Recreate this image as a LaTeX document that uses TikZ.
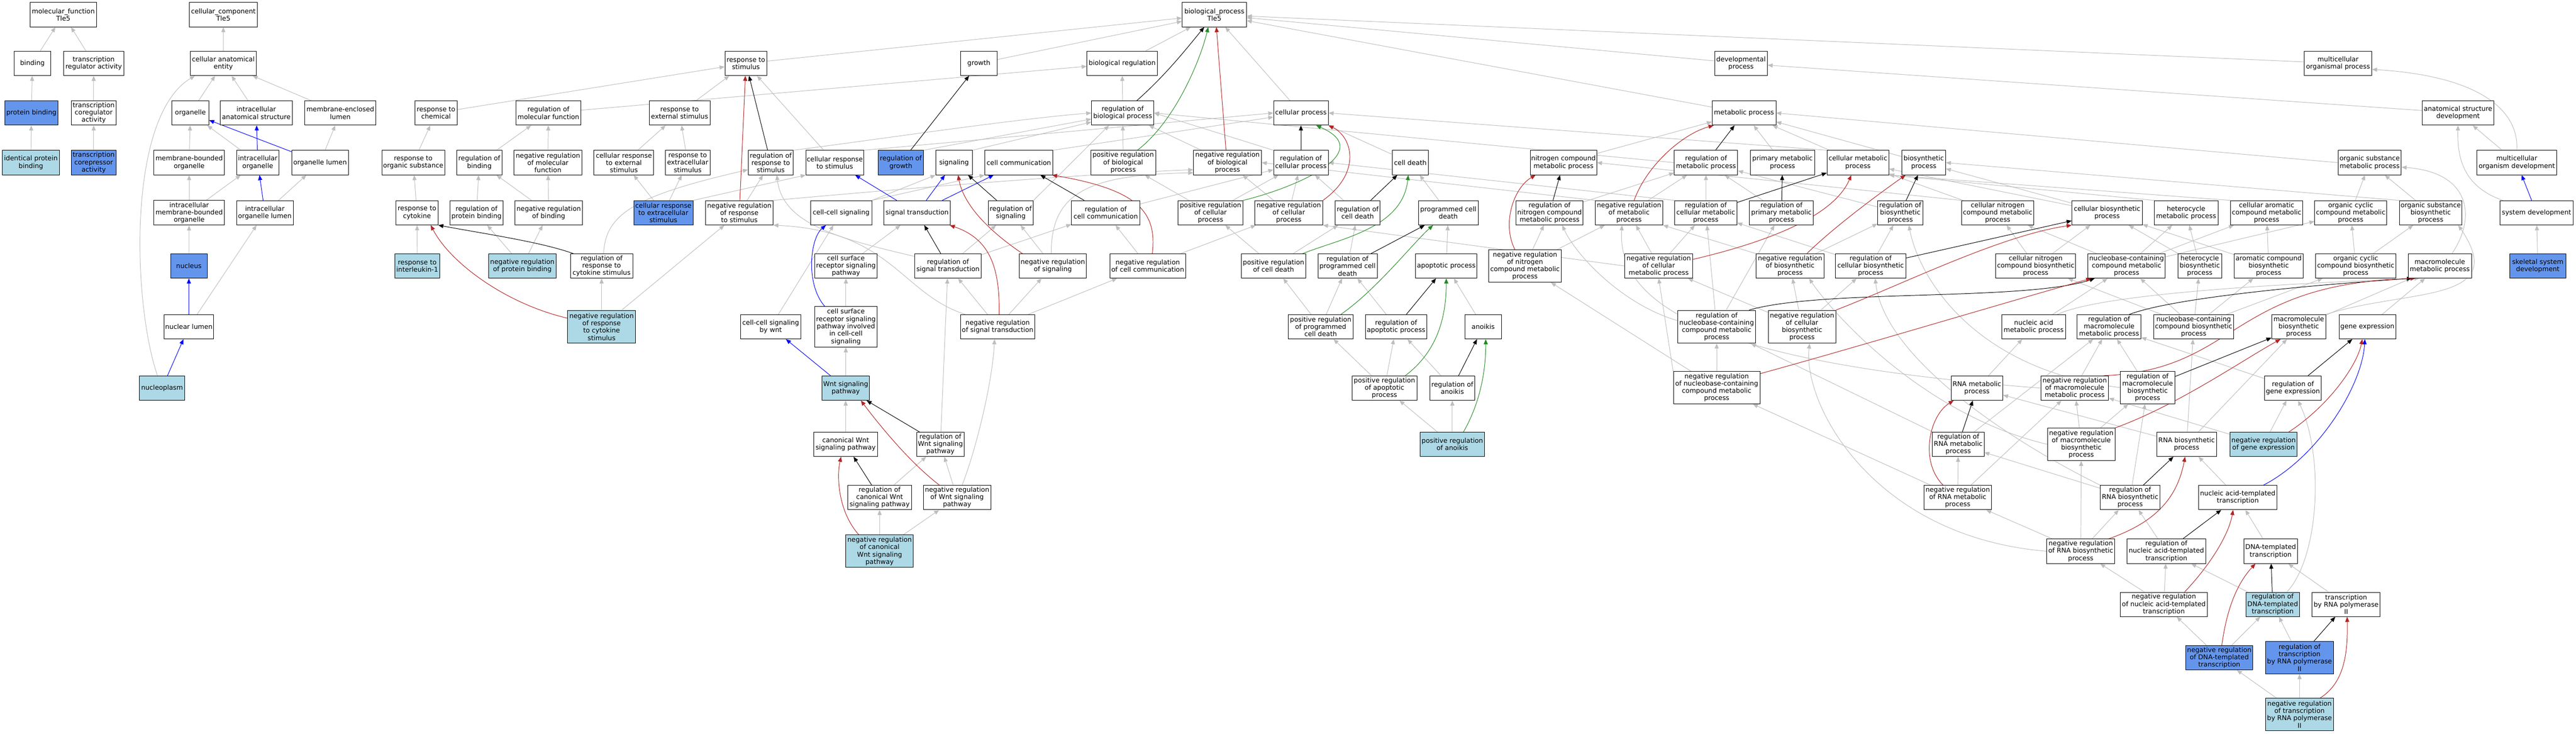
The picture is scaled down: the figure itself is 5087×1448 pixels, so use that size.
\documentclass[tikz,border=0pt]{standalone}
\usepackage{fontspec}
\setmainfont{DejaVu Sans}
\usetikzlibrary{arrows.meta}
\definecolor{edgegray}{RGB}{190,190,190}
\definecolor{lbc}{RGB}{173,216,230}
\definecolor{cbc}{RGB}{100,149,237}
\definecolor{frc}{RGB}{178,34,34}
\definecolor{fgc}{RGB}{34,139,34}
\pgfdeclarelayer{bgfill}
\pgfdeclarelayer{edges}
\pgfsetlayers{bgfill,edges,main}
\tikzset{
 gonode/.style={draw=black,line width=1pt,fill=white,rectangle,align=center,inner sep=0pt,minimum height=48pt,font=\fontsize{13pt}{14.5pt}\selectfont},
 golb/.style={gonode,fill=lbc},
 gocb/.style={gonode,fill=cbc},
 egray/.style={draw=edgegray,line width=1pt,-{Triangle[length=10pt,width=8pt]}},
 eblack/.style={egray,draw=black},
 ered/.style={egray,draw=frc},
 egreen/.style={egray,draw=fgc},
 eblue/.style={egray,draw=blue},
}
\begin{document}
\begin{tikzpicture}[x=1pt,y=-1pt]
\begin{pgfonlayer}{bgfill}
\fill[white] (0,0) rectangle (5087,1448);
\end{pgfonlayer}
\useasboundingbox (0,0) rectangle (5087,1448);
% row 1
\node[gonode,minimum width=131pt] (mf) at (125,29) {molecular\_function\\Tle5};
\node[gonode,minimum width=134pt] (cc0) at (441,29) {cellular\_component\\Tle5};
\node[gonode,minimum width=127pt] (bp) at (2398,29) {biological\_process\\Tle5};
% row 2
\node[gonode,minimum width=73pt] (bind) at (64,125) {binding};
\node[gonode,minimum width=119pt] (tra) at (185,125) {transcription\\regulator activity};
\node[gonode,minimum width=131pt] (cae) at (441,125) {cellular anatomical\\entity};
\node[gonode,minimum width=83pt] (rs) at (1473,125) {response to\\stimulus};
\node[gonode,minimum width=72pt] (grow) at (1933,125) {growth};
\node[gonode,minimum width=139pt] (breg) at (2216,125) {biological regulation};
\node[gonode,minimum width=104pt] (dev) at (3438,125) {developmental\\process};
\node[gonode,minimum width=133pt] (mop) at (4617,125) {multicellular\\organismal process};
% row 3
\node[gocb,minimum width=105pt] (pb) at (62,223) {protein binding};
\node[gonode,minimum width=88pt] (tca) at (185,223) {transcription\\coregulator\\activity};
\node[gonode,minimum width=73pt] (org) at (376,223) {organelle};
\node[gonode,minimum width=142pt] (ias) at (506,223) {intracellular\\anatomical structure};
\node[gonode,minimum width=140pt] (mel) at (672,223) {membrane-enclosed\\lumen};
\node[gonode,minimum width=84pt] (rch) at (861,223) {response to\\chemical};
\node[gonode,minimum width=128pt] (rmf) at (1083,223) {regulation of\\molecular function};
\node[gonode,minimum width=120pt] (res) at (1342,223) {response to\\external stimulus};
\node[gonode,minimum width=123pt] (rbp) at (2217,223) {regulation of\\biological process};
\node[gonode,minimum width=108pt] (cp) at (2569,223) {cellular process};
\node[gonode,minimum width=126pt] (mp) at (3444,223) {metabolic process};
\node[gonode,minimum width=142pt] (asd) at (4854,223) {anatomical structure\\development};
% row 4
\node[golb,minimum width=113pt] (ipb) at (61,321) {identical protein\\binding};
\node[gocb,minimum width=88pt] (tcra) at (185,321) {transcription\\corepressor\\activity};
\node[gonode,minimum width=139pt] (mbo) at (373.5,321) {membrane-bounded\\organelle};
\node[gonode,minimum width=84pt] (io) at (509,321) {intracellular\\organelle};
\node[gonode,minimum width=112pt] (ol) at (632,321) {organelle lumen};
\node[gonode,minimum width=124pt] (ros) at (816,321) {response to\\organic substance};
\node[gonode,minimum width=89pt] (rbind) at (946.5,321) {regulation of\\binding};
\node[gonode,minimum width=134pt] (nrmf) at (1082,321) {negative regulation\\of molecular\\function};
\node[gonode,minimum width=118pt] (cres) at (1232,321) {cellular response\\to external\\stimulus};
\node[gonode,minimum width=88pt] (rexs) at (1358,321) {response to\\extracellular\\stimulus};
\node[gonode,minimum width=89pt] (rrs) at (1522,321) {regulation of\\response to\\stimulus};
\node[gonode,minimum width=114pt] (crs) at (1648.5,321) {cellular response\\to stimulus};
\node[gocb,minimum width=89pt] (rgr) at (1779,321) {regulation of\\growth};
\node[gonode,minimum width=72pt] (sig) at (1884,321) {signaling};
\node[gonode,minimum width=134pt] (ccom) at (2012,321) {cell communication};
\node[gonode,minimum width=128pt] (prbp) at (2218,321) {positive regulation\\of biological\\process};
\node[gonode,minimum width=134pt] (nrbp) at (2424,321) {negative regulation\\of biological\\process};
\node[gonode,minimum width=108pt] (rcp) at (2569,321) {regulation of\\cellular process};
\node[gonode,minimum width=72pt] (cd) at (2785,321) {cell death};
\node[gonode,minimum width=131pt] (nitro) at (3087.5,321) {nitrogen compound\\metabolic process};
\node[gonode,minimum width=125pt] (rmp) at (3369,321) {regulation of\\metabolic process};
\node[gonode,minimum width=127pt] (pmp) at (3520,321) {primary metabolic\\process};
\node[gonode,minimum width=122pt] (cmp) at (3669,321) {cellular metabolic\\process};
\node[gonode,minimum width=86pt] (bsp) at (3799,321) {biosynthetic\\process};
\node[gonode,minimum width=125pt] (osmp) at (4679.5,321) {organic substance\\metabolic process};
\node[gonode,minimum width=157pt] (mod) at (4970,321) {multicellular\\organism development};
% row 5
\node[gonode,minimum width=139pt,minimum height=49pt] (imbo) at (373.5,420) {intracellular\\membrane-bounded\\organelle};
\node[gonode,minimum width=112pt] (iol) at (523,420) {intracellular\\organelle lumen};
\node[gonode,minimum width=83pt] (rcyt) at (823.5,420) {response to\\cytokine};
\node[gonode,minimum width=105pt] (rpb) at (941,420) {regulation of\\protein binding};
\node[gonode,minimum width=133pt] (nrb) at (1083.5,420) {negative regulation\\of binding};
\node[gocb,minimum width=117pt] (crexs) at (1310,420) {cellular response\\to extracellular\\stimulus};
\node[gonode,minimum width=133pt] (nrs) at (1460,420) {negative regulation\\of response\\to stimulus};
\node[gonode,minimum width=121pt] (ccs) at (1661,420) {cell-cell signaling};
\node[gonode,minimum width=132pt] (st) at (1811,420) {signal transduction};
\node[gonode,minimum width=89pt] (rsig) at (1996,420) {regulation of\\signaling};
\node[gonode,minimum width=135pt] (rcc) at (2183.5,420) {regulation of\\cell communication};
\node[gonode,minimum width=128pt] (pcp) at (2390.5,420) {positive regulation\\of cellular\\process};
\node[gonode,minimum width=134pt] (ncp) at (2545,420) {negative regulation\\of cellular\\process};
\node[gonode,minimum width=89pt] (rcd) at (2681,420) {regulation of\\cell death};
\node[gonode,minimum width=118pt] (pcd) at (2860,420) {programmed cell\\death};
\node[gonode,minimum width=132pt] (rnit) at (3060,420) {regulation of\\nitrogen compound\\metabolic process};
\node[gonode,minimum width=133pt] (nmp) at (3217,420) {negative regulation\\of metabolic\\process};
\node[gonode,minimum width=123pt] (rcmp) at (3368.5,420) {regulation of\\cellular metabolic\\process};
\node[gonode,minimum width=126pt] (rpmp) at (3518,420) {regulation of\\primary metabolic\\process};
\node[gonode,minimum width=89pt] (rbsp) at (3752.5,420) {regulation of\\biosynthetic\\process};
\node[gonode,minimum width=142pt] (cnmp) at (3945,420) {cellular nitrogen\\compound metabolic\\process};
\node[gonode,minimum width=139pt] (cbsp) at (4161,420) {cellular biosynthetic\\process};
\node[gonode,minimum width=126pt] (hmp) at (4317,420) {heterocycle\\metabolic process};
\node[gonode,minimum width=142pt] (camp) at (4476,420) {cellular aromatic\\compound metabolic\\process};
\node[gonode,minimum width=142pt] (ocmp) at (4642,420) {organic cyclic\\compound metabolic\\process};
\node[gonode,minimum width=124pt] (osbp) at (4800,420) {organic substance\\biosynthetic\\process};
\node[gonode,minimum width=144pt] (sysd) at (5009,420) {system development};
% row 6
\node[gocb,minimum width=72pt] (nuc) at (373,525) {nucleus};
\node[golb,minimum width=89pt] (ril) at (824,525) {response to\\interleukin-1};
\node[golb,minimum width=133pt] (nrpb) at (1031.5,525) {negative regulation\\of protein binding};
\node[gonode,minimum width=123pt] (rrc) at (1188,525) {regulation of\\response to\\cytokine stimulus};
\node[gonode,minimum width=123pt] (csr) at (1670.5,525) {cell surface\\receptor signaling\\pathway};
\node[gonode,minimum width=131pt] (rst) at (1872,525) {regulation of\\signal transduction};
\node[gonode,minimum width=133pt] (nsig) at (2079,525) {negative regulation\\of signaling};
\node[gonode,minimum width=150pt] (ncc) at (2266.5,525) {negative regulation\\of cell communication};
\node[gonode,minimum width=128pt] (pcdeath) at (2515,525) {positive regulation\\of cell death};
\node[gonode,minimum width=117pt] (rpcd) at (2661,525) {regulation of\\programmed cell\\death};
\node[gonode,minimum width=121pt] (ap) at (2856,525) {apoptotic process};
\node[gonode,minimum width=143pt,minimum height=64pt] (nnit) at (3011.5,525) {negative regulation\\of nitrogen\\compound metabolic\\process};
\node[gonode,minimum width=134pt] (ncmp) at (3275.5,525) {negative regulation\\of cellular\\metabolic process};
\node[gonode,minimum width=134pt] (nbsp) at (3535,525) {negative regulation\\of biosynthetic\\process};
\node[gonode,minimum width=139pt] (rcbsp) at (3694,525) {regulation of\\cellular biosynthetic\\process};
\node[gonode,minimum width=158pt] (cnbp) at (4020,525) {cellular nitrogen\\compound biosynthetic\\process};
\node[gonode,minimum width=153pt] (nbcmp) at (4199.5,525) {nucleobase-containing\\compound metabolic\\process};
\node[gonode,minimum width=87pt] (hbp) at (4344,525) {heterocycle\\biosynthetic\\process};
\node[gonode,minimum width=137pt] (abp) at (4480,525) {aromatic compound\\biosynthetic\\process};
\node[gonode,minimum width=158pt] (ocbp) at (4652,525) {organic cyclic\\compound biosynthetic\\process};
\node[gonode,minimum width=125pt] (mmp) at (4818,525) {macromolecule\\metabolic process};
\node[gocb,minimum width=111pt] (ssd) at (5011.5,525) {skeletal system\\development};
% row 7
\node[gonode,minimum width=98pt] (nl) at (373,645) {nuclear lumen};
\node[golb,minimum width=134pt,minimum height=65pt] (nrcs) at (1188,645) {negative regulation\\of response\\to cytokine\\stimulus};
\node[gonode,minimum width=120pt] (ccw) at (1522,645) {cell-cell signaling\\by wnt};
\node[gonode,minimum width=123pt,minimum height=80pt] (csri) at (1670.5,645) {cell surface\\receptor signaling\\pathway involved\\in cell-cell\\signaling};
\node[gonode,minimum width=146pt] (nst) at (1970,645) {negative regulation\\of signal transduction};
\node[gonode,minimum width=128pt] (ppcd) at (2608,645) {positive regulation\\of programmed\\cell death};
\node[gonode,minimum width=121pt] (rap) at (2757,645) {regulation of\\apoptotic process};
\node[gonode,minimum width=72pt] (anoi) at (2929,645) {anoikis};
\node[gonode,minimum width=153pt,minimum height=65pt] (rnb) at (3390,645) {regulation of\\nucleobase-containing\\compound metabolic\\process};
\node[gonode,minimum width=133pt,minimum height=65pt] (ncbsp) at (3558.5,645) {negative regulation\\of cellular\\biosynthetic\\process};
\node[gonode,minimum width=126pt] (nam) at (4016,645) {nucleic acid\\metabolic process};
\node[gonode,minimum width=126pt] (rmm) at (4165,645) {regulation of\\macromolecule\\metabolic process};
\node[gonode,minimum width=158pt] (nbbp) at (4332,645) {nucleobase-containing\\compound biosynthetic\\process};
\node[gonode,minimum width=107pt] (mbp) at (4539.5,645) {macromolecule\\biosynthetic\\process};
\node[gonode,minimum width=112pt] (gex) at (4675,645) {gene expression};
% row 8
\node[golb,minimum width=89pt] (npl) at (320,766) {nucleoplasm};
\node[golb,minimum width=94pt] (wnt) at (1670,766) {Wnt signaling\\pathway};
\node[gonode,minimum width=128pt] (pap) at (2734,766) {positive regulation\\of apoptotic\\process};
\node[gonode,minimum width=88pt] (ran) at (2868,766) {regulation of\\anoikis};
\node[gonode,minimum width=171pt,minimum height=64pt] (nnb) at (3390,765) {negative regulation\\of nucleobase-containing\\compound metabolic\\process};
\node[gonode,minimum width=102pt] (rnamp) at (3904,766) {RNA metabolic\\process};
\node[gonode,minimum width=134pt] (nmm) at (4097,766) {negative regulation\\of macromolecule\\metabolic process};
\node[gonode,minimum width=107pt,minimum height=64pt] (rmb) at (4241,765) {regulation of\\macromolecule\\biosynthetic\\process};
\node[gonode,minimum width=112pt] (rgex) at (4528,766) {regulation of\\gene expression};
% row 9
\node[gonode,minimum width=126pt] (cwnt) at (1670,877) {canonical Wnt\\signaling pathway};
\node[gonode,minimum width=94pt] (rwnt) at (1857,877) {regulation of\\Wnt signaling\\pathway};
\node[golb,minimum width=128pt] (pran) at (2868,877) {positive regulation\\of anoikis};
\node[gonode,minimum width=102pt] (rrm) at (3867,877) {regulation of\\RNA metabolic\\process};
\node[gonode,minimum width=133pt,minimum height=64pt] (nmb) at (4110,877) {negative regulation\\of macromolecule\\biosynthetic\\process};
\node[gonode,minimum width=118pt] (rnabp) at (4318,877) {RNA biosynthetic\\process};
\node[golb,minimum width=133pt] (ngex) at (4470,877) {negative regulation\\of gene expression};
% row 10
\node[gonode,minimum width=126pt] (rcwnt) at (1737,982) {regulation of\\canonical Wnt\\signaling pathway};
\node[gonode,minimum width=133pt] (nwnt) at (1890,982) {negative regulation\\of Wnt signaling\\pathway};
\node[gonode,minimum width=133pt] (nrm) at (3866,982) {negative regulation\\of RNA metabolic\\process};
\node[gonode,minimum width=118pt] (rrb) at (4206.5,982) {regulation of\\RNA biosynthetic\\process};
\node[gonode,minimum width=154pt] (nat) at (4419,982) {nucleic acid-templated\\transcription};
% row 11
\node[golb,minimum width=133pt,minimum height=64pt] (ncwnt) at (1737,1088) {negative regulation\\of canonical\\Wnt signaling\\pathway};
\node[gonode,minimum width=134pt] (nrb2) at (4109,1088) {negative regulation\\of RNA biosynthetic\\process};
\node[gonode,minimum width=155pt] (rnat) at (4278,1088) {regulation of\\nucleic acid-templated\\transcription};
\node[gonode,minimum width=106pt] (dna) at (4484,1088) {DNA-templated\\transcription};
% row 12
\node[gonode,minimum width=172pt] (nnat) at (4273,1193) {negative regulation\\of nucleic acid-templated\\transcription};
\node[golb,minimum width=106pt] (rdna) at (4488,1193) {regulation of\\DNA-templated\\transcription};
\node[gonode,minimum width=134pt] (trp) at (4633,1193) {transcription\\by RNA polymerase\\II};
% row 13-14
\node[gocb,minimum width=133pt] (ndna) at (4382.5,1298) {negative regulation\\of DNA-templated\\transcription};
\node[gocb,minimum width=134pt,minimum height=64pt] (rrp) at (4541,1298) {regulation of\\transcription\\by RNA polymerase\\II};
\node[golb,minimum width=134pt,minimum height=64pt] (nrp) at (4541,1410) {negative regulation\\of transcription\\by RNA polymerase\\II};

\begin{pgfonlayer}{edges}
% ---------- gray edges ----------
\foreach \a/\b in {bind/mf,tra/mf,pb/bind,tca/tra,ipb/pb,tcra/tca,
 cae/cc0,org/cae,ias/cae,mel/cae,mbo/org,io/org,ol/mel,imbo/mbo,imbo/io,iol/ol,nuc/imbo,nl/iol,
 rs/bp,grow/bp,breg/bp,cp/bp,dev/bp,mop/bp,mp/bp,
 rch/rs,rmf/breg,res/rs,rbp/breg,asd/dev,ros/rch,rbind/rmf,nrmf/rmf,cres/res,rexs/res,crs/rs,
 prbp/rbp,nrbp/rbp,cd/cp,nitro/mp,pmp/mp,cmp/mp,bsp/mp,mod/asd,
 rpb/rbind,nrb/rbind,nrb/nrmf,crexs/cres,crexs/rexs,rcyt/ros,nrs/rrs,
 rcc/rcp,pcp/prbp,pcp/rcp,ncp/nrbp,ncp/rcp,rcd/rcp,pcd/cd,rnit/rmp,nmp/rmp,rcmp/rmp,rpmp/rmp,rbsp/rmp,
 cnmp/cmp,cbsp/bsp,cbsp/cmp,ocmp/osmp,osbp/osmp,ril/rcyt,nrpb/rpb,nrpb/nrb,nrcs/rrc,nrcs/nrs,csr/st,
 rst/rsig,rst/rcc,nsig/rsig,ncc/rcc,ncc/ncp,pcdeath/pcp,pcdeath/rcd,rpcd/rcd,ap/pcd,
 nnit/rnit,nnit/nmp,ncmp/nmp,ncmp/rcmp,nbsp/rbsp,rcbsp/rcmp,rcbsp/rbsp,cnbp/cnmp,cnbp/cbsp,
 nbcmp/cnmp,nbcmp/hmp,nbcmp/camp,nbcmp/ocmp,hbp/hmp,hbp/cbsp,abp/camp,abp/cbsp,ocbp/ocmp,ocbp/osbp,
 ssd/sysd,ccw/ccs,csri/csr,nst/rst,nst/nsig,nst/ncc,ppcd/pcdeath,ppcd/rpcd,rap/rpcd,anoi/ap,
 rnb/rcmp,rnb/rpmp,ncbsp/rcbsp,ncbsp/nbsp,ncbsp/ncmp,nam/nbcmp,nbbp/nbcmp,nbbp/hbp,nbbp/abp,nbbp/ocbp,nbbp/cnbp,
 mbp/mmp,gex/mmp,wnt/csri,pap/rap,pap/ppcd,ran/rap,nnb/rnb,nnb/nnit,rnamp/nam,nmm/rmm,rmb/rmm,rgex/rmm,
 cwnt/wnt,rwnt/rst,pran/pap,pran/ran,rrm/rnb,rrm/rmm,nmb/rmb,nmb/nmm,rnabp/rnamp,rnabp/nbbp,rnabp/mbp,
 ngex/rgex,ngex/nmm,rcwnt/rwnt,nwnt/rwnt,nrm/rrm,nrm/nmm,nrm/nnb,rrb/rrm,rrb/rmb,nat/rnabp,
 ncwnt/rcwnt,ncwnt/nwnt,nrb2/nrm,nrb2/rrb,nrb2/nmb,rnat/rrb,dna/nat,nnat/nrb2,nnat/rnat,rdna/rnat,
 trp/dna,ndna/nnat,ndna/rdna,rrp/rdna,nrp/ndna,nrp/rrp}
 {\draw[egray] (\a) -- (\b);}
\draw[egray] (rcp.north west) -- (rbp.east);
\draw[egray] (rsig.north east) -- ([xshift=-27pt]rbp.south);
\draw[egray] (rgr.north east) -- ([yshift=-12pt]rbp.west);
\draw[egray] (sig.north east) -- ([yshift=-18pt]rbp.west);
\draw[egray] (ccom.north east) -- ([yshift=-8pt]cp.west);
\draw[egray] (crs.north east) -- (cp.west);
\draw[egray] (cmp.north west) -- (cp.east);
\draw[egray] (rmp.west) -- (rbp.east);
\draw[egray] (rcmp.north west) -- (rcp.east);
\draw[egray] (nmp.north west) -- (nrbp.east);
\draw[egray] (ncmp.west) -- (ncp.south east);
\draw[egray] (nbsp.north west) -- (nmp.south east);
\draw[egray] (osmp.west) -- (mp.east);
\draw[egray] (osbp.north west) -- (bsp.east);
\draw[egray] (cnmp.north west) -- (nitro.east);
\draw[egray] (hmp.north west) -- (cmp.south east);
\draw[egray] (camp.north west) -- (cmp.south east);
\draw[egray] (ccs.north east) -- (sig.south west);
\draw[egray] (ccs.north east) -- (ccom.south west);
\draw[egray] (crexs.north east) -- (crs.south west);
\draw[egray] (nnb.north west) -- (ncmp.south);
\draw[egray] ([xshift=-9pt]npl.north) .. controls (262,600) and (250,230) .. ([xshift=10pt]cae.south west);
\draw[egray] (rrs.north east) .. controls (1700,280) and (2000,235) .. (rbp.west);
\draw[egray] (mod.north) .. controls (4975,220) and (4900,150) .. ([yshift=-12pt]mop.east);
\draw[egray] ([xshift=6pt]sysd.north west) .. controls (4870,370) and (4852,320) .. (asd.south);
\draw[egray] ([xshift=24pt]mmp.north) .. controls (4890,430) and (4880,340) .. ([yshift=-9pt]osmp.east);
\draw[egray] (mbp.north east) .. controls (4750,570) and (4960,600) .. ([xshift=-8pt]osbp.south east);
\draw[egray] ([xshift=4pt]rrc.north) .. controls (1195,420) and (1260,385) .. ([yshift=-14pt]rrs.west);
\draw[egray] ([yshift=19pt]rst.west) .. controls (1650,470) and (1545,440) .. ([xshift=12pt]rrs.south);
\draw[egray] ([xshift=-64pt]nst.north) .. controls (1780,580) and (1760,455) .. (nrs.south east);
\draw[egray] ([xshift=-3pt]nsig.north) .. controls (2075,380) and (2150,345) .. ([yshift=-20pt]nrbp.west);
\draw[egray] (nrs.north east) .. controls (1700,380) and (2100,345) .. ([yshift=-14pt]nrbp.west);
\draw[egray] ([yshift=12pt]rnb.west) .. controls (3200,600) and (3110,500) .. ([xshift=25pt]rnit.south);
\draw[egray] (nmm.west) .. controls (3500,725) and (3190,640) .. ([xshift=-14pt]nmp.south);
\draw[egray] (rmb.west) .. controls (3900,730) and (3790,550) .. ([xshift=17pt]rbsp.south);
\draw[egray] (nmb.west) .. controls (3800,820) and (3620,620) .. ([xshift=-30pt]nbsp.south east);
\draw[egray] (rrb.north west) .. controls (3950,860) and (3720,700) .. ([xshift=9pt]rcbsp.south);
\draw[egray] (nrb2.west) .. controls (3700,1060) and (3560,800) .. ([xshift=15pt]ncbsp.south);
\draw[egray] ([xshift=28pt]rdna.north) .. controls (4580,1100) and (4590,900) .. ([xshift=10pt]rgex.south);
\draw[egray] ([xshift=10pt]nwnt.north) .. controls (1930,880) and (1960,750) .. ([xshift=-6pt]nst.south);
\draw[egray] ([xshift=47pt]nam.north) .. controls (4150,580) and (4500,560) .. ([xshift=-40pt]mmp.south);
% ---------- blue ----------
\draw[eblue] (ol) -- (org);
\draw[eblue] (io) -- (ias);
\draw[eblue] (iol) -- (io);
\draw[eblue] (nl) -- (nuc);
\draw[eblue] (npl) -- (nl);
\draw[eblue] (st) -- (crs);
\draw[eblue] (st) -- (sig);
\draw[eblue] (st) -- (ccom);
\draw[eblue] ([xshift=-42pt]csri.north) .. controls (1590,560) and (1600,470) .. ([xshift=-30pt]ccs.south);
\draw[eblue] (wnt) -- (ccw);
\draw[eblue] (sysd) -- (mod);
\draw[eblue] ([xshift=51pt]nat.north) .. controls (4580,900) and (4665,760) .. ([xshift=-5pt]gex.south);
% ---------- black ----------
\draw[eblack] ([xshift=6pt]rrc.north west) .. controls (1070,478) and (960,462) .. (rcyt.south east);
\draw[eblack] (rrs) -- (rs);
\draw[eblack] ([xshift=28pt]rbp.north) .. controls (2300,150) and (2340,100) .. ([xshift=-20pt]bp.south);
\draw[eblack] (rgr) -- (grow);
\draw[eblack] (rsig) -- (sig);
\draw[eblack] (rcc) -- (ccom);
\draw[eblack] (rst) -- (st);
\draw[eblack] (rwnt) -- (wnt);
\draw[eblack] (rcwnt) -- (cwnt);
\draw[eblack] (rcp) -- (cp);
\draw[eblack] (rcd) -- (cd);
\draw[eblack] (rpcd) -- (pcd);
\draw[eblack] (rap) -- (ap);
\draw[eblack] (ran) -- (anoi);
\draw[eblack] (rnit) -- (nitro);
\draw[eblack] (rmp) -- (mp);
\draw[eblack] (rpmp) -- (pmp);
\draw[eblack] (rcmp) -- (cmp);
\draw[eblack] (rbsp) -- (bsp);
\draw[eblack] (rcbsp) -- (cbsp);
\draw[eblack] ([xshift=-13pt]rnb.north east) .. controls (3600,570) and (4000,595) .. ([xshift=-63pt]nbcmp.south);
\draw[eblack] ([xshift=40pt]rmm.north) .. controls (4300,585) and (4600,560) .. ([xshift=-55pt]mmp.south);
\draw[eblack] (rmb) -- (mbp);
\draw[eblack] (rgex) -- (gex);
\draw[eblack] (rrm) -- (rnamp);
\draw[eblack] (rrb) -- (rnabp);
\draw[eblack] (rnat) -- (nat);
\draw[eblack] (rdna) -- (dna);
\draw[eblack] (rrp) -- (trp);
% ---------- red ----------
\draw[ered] ([yshift=17pt]nrcs.west) .. controls (1000,600) and (890,520) .. ([xshift=-15pt]rcyt.south east);
\draw[ered] (nrs) -- (rs);
\draw[ered] ([xshift=-3pt]nrbp.north) -- ([xshift=4pt]bp.south);
\draw[ered] ([xshift=-60pt]nsig.north) .. controls (1930,440) and (1900,390) .. ([xshift=8pt]sig.south);
\draw[ered] ([xshift=9pt]ncc.north) .. controls (2285,420) and (2250,375) .. ([xshift=-2pt]ccom.south east);
\draw[ered] ([xshift=3pt]nst.north) .. controls (1975,520) and (1950,470) .. ([xshift=-2pt]st.south east);
\draw[ered] ([xshift=-35pt]nwnt.north) .. controls (1800,915) and (1745,850) .. ([xshift=30pt]wnt.south);
\draw[ered] ([xshift=-41pt]ncwnt.north) .. controls (1655,1010) and (1652,940) .. ([xshift=-9pt]cwnt.south);
\draw[ered] (ncp.north east) .. controls (2690,340) and (2670,270) .. (cp.south east);
\draw[ered] ([xshift=-20pt]nnit.north) .. controls (2965,440) and (2990,370) .. ([xshift=-55pt]nitro.south);
\draw[ered] ([xshift=10pt]nmp.north) .. controls (3250,330) and (3320,265) .. ([xshift=-60pt]mp.south);
\draw[ered] ([yshift=13pt]ncmp.east) .. controls (3480,480) and (3620,430) .. ([xshift=-13pt]cmp.south);
\draw[ered] ([xshift=33pt]nbsp.north) .. controls (3620,450) and (3700,390) .. ([xshift=-36pt]bsp.south);
\draw[ered] (ncbsp.north east) .. controls (3760,560) and (3950,465) .. (cbsp.south west);
\draw[ered] ([yshift=-5pt]nnb.north east) .. controls (3650,690) and (3950,600) .. ([xshift=-70pt]nbcmp.south);
\draw[ered] ([xshift=-10pt]nmm.north east) .. controls (4420,730) and (4400,560) .. ([xshift=-48pt]mmp.south);
\draw[ered] (nmb.north east) .. controls (4300,800) and (4430,710) .. ([xshift=-36pt]mbp.south);
\draw[ered] ([xshift=50pt]ngex.north) .. controls (4600,800) and (4655,720) .. ([xshift=-10pt]gex.south);
\draw[ered] ([xshift=-29pt]nrm.north) .. controls (3790,910) and (3810,820) .. ([xshift=-46pt]rnamp.south);
\draw[ered] ([xshift=55pt]nrb2.north) .. controls (4260,1030) and (4300,980) .. ([xshift=-3pt]rnabp.south);
\draw[ered] ([xshift=41pt]nnat.north) .. controls (4360,1120) and (4400,1060) .. ([xshift=-9pt]nat.south);
\draw[ered] ([xshift=5pt]ndna.north) .. controls (4395,1220) and (4410,1160) .. ([xshift=-30pt]dna.south);
\draw[ered] ([xshift=41pt]nrp.north) .. controls (4625,1350) and (4637,1300) .. ([xshift=2pt]trp.south);
% ---------- green ----------
\draw[egreen] ([xshift=28pt]prbp.north) .. controls (2320,240) and (2370,120) .. ([xshift=-12pt]bp.south);
\draw[egreen] (pcp.north east) .. controls (2560,370) and (2720,300) .. ([xshift=30pt]cp.south);
\draw[egreen] ([xshift=-7pt]pcdeath.north east) .. controls (2650,470) and (2770,450) .. ([xshift=-4pt]cd.south);
\draw[egreen] ([xshift=40pt]ppcd.north) .. controls (2720,570) and (2790,480) .. ([xshift=-30pt]pcd.south);
\draw[egreen] ([xshift=41pt]pap.north) .. controls (2830,700) and (2856,640) .. (ap.south);
\draw[egreen] ([xshift=22pt]pran.north) .. controls (2920,800) and (2934,740) .. ([xshift=5pt]anoi.south);
\end{pgfonlayer}
\end{tikzpicture}
\end{document}
